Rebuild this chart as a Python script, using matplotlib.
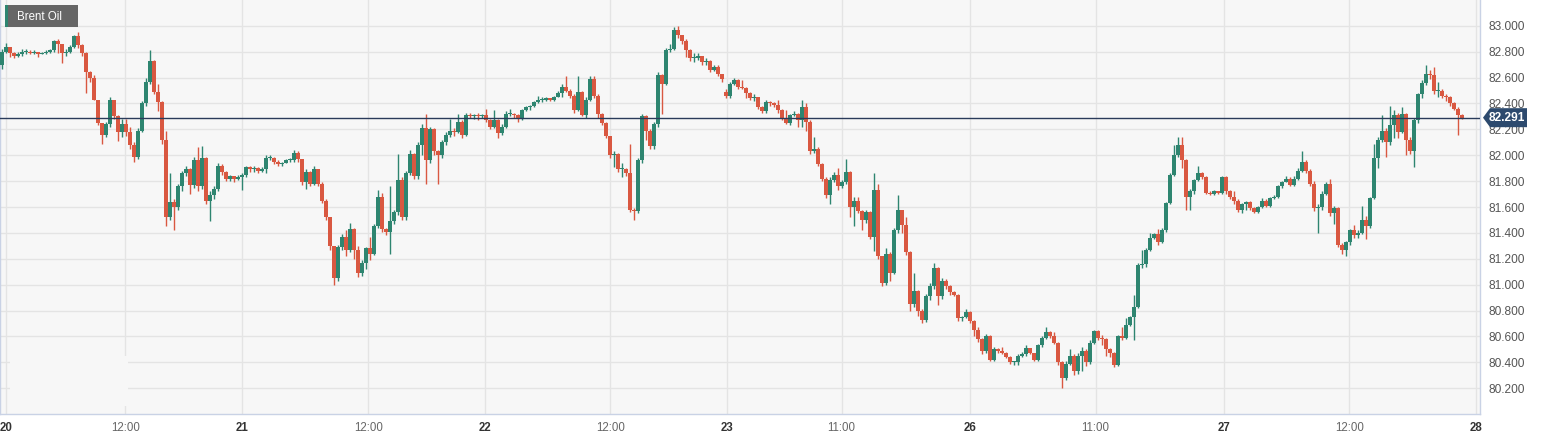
import matplotlib
matplotlib.use("Agg")
import matplotlib.pyplot as plt
from matplotlib.patches import Rectangle, Polygon
import numpy as np

# Brent Oil, 15-min style candles (compressed), Mar 20 - Mar 27
first_open = 82.70

close = [
    82.80, 82.84, 82.79, 82.77, 82.78, 82.80, 82.80, 82.79, 82.80, 82.78,
    82.79, 82.80, 82.81, 82.88, 82.86, 82.79, 82.80, 82.84, 82.92, 82.85,
    82.79, 82.64, 82.60, 82.43, 82.25, 82.16, 82.24, 82.43, 82.30, 82.18,
    82.24, 82.18, 82.08, 81.99, 82.19, 82.40, 82.57, 82.73, 82.49, 82.41,
    82.12, 81.52, 81.64, 81.60, 81.76, 81.86, 81.89, 81.77, 81.96, 81.76,
    81.98, 81.65, 81.69, 81.74, 81.92, 81.87, 81.82, 81.84, 81.82, 81.83,
    81.85, 81.91, 81.89, 81.90, 81.88, 81.89, 81.98, 81.98, 81.95, 81.93,
    81.94, 81.96, 81.96, 82.02, 81.97, 81.79, 81.87, 81.78, 81.89, 81.78,
    81.65, 81.52, 81.30, 81.05, 81.29, 81.37, 81.27, 81.43, 81.27, 81.09,
    81.17, 81.28, 81.24, 81.45, 81.68, 81.43, 81.41, 81.49, 81.56, 81.81,
    81.52, 81.86, 82.01, 81.84, 82.08, 82.21, 81.96, 82.20, 82.03, 82.00,
    82.10, 82.16, 82.19, 82.18, 82.26, 82.16, 82.31, 82.30, 82.31, 82.30,
    82.31, 82.27, 82.22, 82.27, 82.17, 82.22, 82.32, 82.32, 82.31, 82.28,
    82.35, 82.37, 82.38, 82.41, 82.43, 82.43, 82.44, 82.43, 82.45, 82.48,
    82.53, 82.50, 82.46, 82.35, 82.49, 82.31, 82.43, 82.59, 82.46, 82.32,
    82.25, 82.15, 82.00, 82.01, 81.89, 81.89, 81.86, 81.58, 81.57, 81.96,
    82.30, 82.19, 82.07, 82.24, 82.62, 82.55, 82.81, 82.82, 82.97, 82.93,
    82.88, 82.81, 82.75, 82.75, 82.77, 82.72, 82.73, 82.66, 82.68, 82.63,
    82.59, 82.46, 82.55, 82.58, 82.53, 82.52, 82.48, 82.44, 82.45, 82.37,
    82.34, 82.41, 82.40, 82.39, 82.35, 82.28, 82.25, 82.31, 82.32, 82.27,
    82.37, 82.26, 82.03, 82.05, 81.93, 81.82, 81.69, 81.81, 81.85, 81.76,
    81.79, 81.87, 81.60, 81.65, 81.57, 81.50, 81.56, 81.37, 81.73, 81.22,
    81.01, 81.24, 81.09, 81.42, 81.58, 81.46, 81.25, 80.85, 80.95, 80.80,
    80.73, 80.91, 80.99, 81.13, 80.91, 81.03, 80.99, 80.94, 80.92, 80.74,
    80.75, 80.79, 80.72, 80.65, 80.58, 80.49, 80.60, 80.42, 80.50, 80.49,
    80.47, 80.44, 80.40, 80.40, 80.45, 80.46, 80.51, 80.47, 80.42, 80.53,
    80.59, 80.63, 80.60, 80.55, 80.40, 80.28, 80.39, 80.45, 80.33, 80.45,
    80.49, 80.40, 80.55, 80.64, 80.59, 80.58, 80.50, 80.47, 80.38, 80.60,
    80.59, 80.69, 80.75, 80.83, 81.15, 81.16, 81.27, 81.36, 81.39, 81.33,
    81.42, 81.63, 81.85, 82.00, 82.08, 81.96, 81.68, 81.72, 81.81, 81.86,
    81.83, 81.71, 81.70, 81.72, 81.71, 81.83, 81.72, 81.68, 81.65, 81.58,
    81.62, 81.64, 81.59, 81.56, 81.60, 81.65, 81.61, 81.67, 81.68, 81.76,
    81.79, 81.82, 81.77, 81.82, 81.88, 81.95, 81.88, 81.78, 81.59, 81.60,
    81.70, 81.78, 81.55, 81.59, 81.31, 81.27, 81.33, 81.42, 81.38, 81.40,
    81.50, 81.45, 81.67, 81.98, 82.12, 82.19, 82.10, 82.23, 82.31, 82.18,
    82.32, 82.12, 82.03, 82.27, 82.47, 82.56, 82.63, 82.62, 82.50, 82.50,
    82.46, 82.45, 82.40, 82.36, 82.31, 82.291,
]

high = [
    82.82, 82.87, 82.84, 82.80, 82.80, 82.82, 82.82, 82.81, 82.81, 82.80,
    82.80, 82.81, 82.82, 82.89, 82.90, 82.86, 82.82, 82.85, 82.93, 82.95,
    82.86, 82.80, 82.65, 82.62, 82.43, 82.25, 82.26, 82.45, 82.43, 82.31,
    82.28, 82.28, 82.22, 82.10, 82.21, 82.42, 82.60, 82.81, 82.74, 82.55,
    82.42, 82.19, 81.86, 81.66, 81.78, 81.88, 81.92, 81.90, 81.99, 82.06,
    82.07, 81.99, 81.72, 81.76, 81.94, 81.93, 81.88, 81.85, 81.84, 81.85,
    81.86, 81.92, 81.92, 81.92, 81.91, 81.91, 82.00, 82.00, 81.99, 81.96,
    81.95, 81.97, 81.98, 82.04, 82.03, 81.97, 81.89, 81.88, 81.92, 81.89,
    81.79, 81.66, 81.52, 81.30, 81.31, 81.39, 81.42, 81.48, 81.44, 81.30,
    81.19, 81.29, 81.37, 81.47, 81.73, 81.71, 81.44, 81.76, 81.58, 82.01,
    81.83, 81.88, 82.04, 82.02, 82.10, 82.24, 82.32, 82.22, 82.21, 82.04,
    82.12, 82.18, 82.28, 82.21, 82.32, 82.27, 82.33, 82.33, 82.32, 82.33,
    82.32, 82.36, 82.28, 82.35, 82.28, 82.24, 82.34, 82.36, 82.33, 82.32,
    82.36, 82.38, 82.39, 82.42, 82.46, 82.45, 82.45, 82.44, 82.46, 82.50,
    82.55, 82.61, 82.51, 82.47, 82.61, 82.50, 82.45, 82.61, 82.61, 82.47,
    82.33, 82.26, 82.15, 82.03, 82.02, 81.94, 81.90, 82.09, 81.59, 81.98,
    82.32, 82.31, 82.20, 82.26, 82.64, 82.63, 82.83, 82.86, 82.99, 83.00,
    82.93, 82.90, 82.82, 82.79, 82.79, 82.77, 82.75, 82.74, 82.70, 82.70,
    82.63, 82.51, 82.57, 82.60, 82.59, 82.58, 82.53, 82.49, 82.47, 82.45,
    82.38, 82.43, 82.42, 82.41, 82.43, 82.36, 82.35, 82.32, 82.34, 82.33,
    82.43, 82.40, 82.27, 82.14, 82.06, 81.94, 81.83, 81.83, 81.87, 81.90,
    81.81, 81.97, 81.88, 81.68, 81.68, 81.58, 81.58, 81.57, 81.86, 81.78,
    81.22, 81.28, 81.25, 81.44, 81.69, 81.58, 81.52, 81.26, 81.09, 80.96,
    80.81, 80.93, 81.01, 81.17, 81.14, 81.05, 81.04, 81.00, 80.95, 80.93,
    80.76, 80.81, 80.80, 80.73, 80.67, 80.59, 80.62, 80.61, 80.52, 80.51,
    80.52, 80.48, 80.45, 80.41, 80.46, 80.48, 80.53, 80.51, 80.47, 80.54,
    80.60, 80.67, 80.64, 80.63, 80.56, 80.41, 80.41, 80.50, 80.46, 80.47,
    80.52, 80.50, 80.57, 80.65, 80.65, 80.61, 80.59, 80.51, 80.48, 80.61,
    80.67, 80.74, 80.76, 80.92, 81.17, 81.27, 81.28, 81.40, 81.40, 81.43,
    81.44, 81.64, 81.86, 82.08, 82.14, 82.14, 81.97, 81.74, 81.82, 81.92,
    81.87, 81.84, 81.72, 81.73, 81.72, 81.84, 81.84, 81.73, 81.72, 81.66,
    81.63, 81.65, 81.65, 81.60, 81.61, 81.67, 81.66, 81.68, 81.69, 81.77,
    81.80, 81.84, 81.83, 81.84, 81.90, 82.03, 81.96, 81.89, 81.80, 81.62,
    81.72, 81.79, 81.82, 81.61, 81.60, 81.32, 81.34, 81.43, 81.46, 81.42,
    81.61, 81.53, 81.68, 82.09, 82.14, 82.31, 82.21, 82.38, 82.35, 82.33,
    82.37, 82.33, 82.14, 82.29, 82.48, 82.58, 82.70, 82.66, 82.68, 82.57,
    82.51, 82.47, 82.46, 82.41, 82.37, 82.32,
]

low = [
    82.67, 82.79, 82.76, 82.75, 82.76, 82.77, 82.78, 82.78, 82.78, 82.76,
    82.78, 82.78, 82.79, 82.80, 82.79, 82.71, 82.77, 82.79, 82.83, 82.83,
    82.77, 82.48, 82.57, 82.43, 82.23, 82.09, 82.14, 82.22, 82.28, 82.11,
    82.14, 82.15, 82.05, 81.95, 81.97, 82.18, 82.38, 82.55, 82.47, 82.34,
    82.09, 81.45, 81.50, 81.42, 81.58, 81.72, 81.84, 81.70, 81.75, 81.72,
    81.74, 81.62, 81.49, 81.66, 81.72, 81.85, 81.80, 81.80, 81.79, 81.81,
    81.73, 81.83, 81.87, 81.87, 81.86, 81.87, 81.86, 81.96, 81.93, 81.92,
    81.92, 81.94, 81.95, 81.95, 81.95, 81.77, 81.74, 81.76, 81.77, 81.76,
    81.63, 81.50, 81.27, 81.00, 81.03, 81.27, 81.22, 81.25, 81.20, 81.06,
    81.07, 81.12, 81.19, 81.23, 81.44, 81.41, 81.38, 81.24, 81.47, 81.54,
    81.50, 81.50, 81.85, 81.82, 81.82, 82.00, 81.78, 81.94, 82.00, 81.78,
    81.98, 82.08, 82.14, 82.15, 82.17, 82.13, 82.15, 82.29, 82.28, 82.27,
    82.29, 82.26, 82.20, 82.21, 82.13, 82.16, 82.21, 82.30, 82.29, 82.26,
    82.27, 82.34, 82.35, 82.37, 82.40, 82.41, 82.42, 82.42, 82.42, 82.45,
    82.45, 82.49, 82.44, 82.33, 82.34, 82.30, 82.29, 82.42, 82.44, 82.29,
    82.23, 82.13, 81.98, 81.91, 81.87, 81.83, 81.84, 81.56, 81.50, 81.55,
    81.94, 82.12, 82.05, 82.05, 82.22, 82.32, 82.54, 82.80, 82.81, 82.91,
    82.86, 82.76, 82.73, 82.72, 82.74, 82.70, 82.70, 82.64, 82.65, 82.61,
    82.57, 82.44, 82.44, 82.54, 82.51, 82.51, 82.44, 82.43, 82.42, 82.36,
    82.33, 82.33, 82.38, 82.37, 82.33, 82.27, 82.24, 82.23, 82.30, 82.22,
    82.22, 82.19, 82.01, 82.02, 81.92, 81.80, 81.67, 81.62, 81.79, 81.73,
    81.75, 81.78, 81.52, 81.45, 81.55, 81.42, 81.48, 81.35, 81.26, 81.20,
    80.99, 81.00, 81.03, 81.08, 81.40, 81.40, 81.23, 80.80, 80.83, 80.76,
    80.70, 80.71, 80.88, 80.97, 80.84, 80.89, 80.97, 80.92, 80.91, 80.72,
    80.72, 80.74, 80.70, 80.60, 80.56, 80.46, 80.47, 80.41, 80.41, 80.47,
    80.46, 80.43, 80.39, 80.38, 80.38, 80.44, 80.45, 80.46, 80.41, 80.41,
    80.52, 80.58, 80.59, 80.54, 80.38, 80.20, 80.26, 80.38, 80.30, 80.31,
    80.33, 80.37, 80.39, 80.54, 80.57, 80.53, 80.45, 80.44, 80.36, 80.37,
    80.57, 80.58, 80.68, 80.57, 80.82, 81.13, 81.14, 81.26, 81.35, 81.31,
    81.32, 81.41, 81.62, 81.84, 81.99, 81.90, 81.58, 81.58, 81.70, 81.80,
    81.82, 81.70, 81.69, 81.69, 81.70, 81.70, 81.70, 81.66, 81.62, 81.56,
    81.55, 81.58, 81.58, 81.55, 81.55, 81.59, 81.60, 81.60, 81.66, 81.67,
    81.75, 81.79, 81.76, 81.76, 81.81, 81.87, 81.86, 81.76, 81.57, 81.40,
    81.58, 81.69, 81.53, 81.47, 81.29, 81.24, 81.22, 81.31, 81.36, 81.36,
    81.39, 81.35, 81.44, 81.66, 81.90, 82.10, 81.99, 82.08, 82.13, 82.13,
    82.17, 82.00, 82.01, 81.91, 82.25, 82.44, 82.54, 82.59, 82.47, 82.45,
    82.44, 82.42, 82.38, 82.35, 82.16, 82.28,
]

# session-break candles that open away from the prior close
gap_open = {181: 82.49}

tick_pos = [1.5, 31.3, 60.6, 92.1, 121.3, 152.6, 181.8, 210.4, 242.6, 273.9, 306.1, 337.3, 369.0]
tick_labels = ["20", "12:00", "21", "12:00", "22", "12:00", "23", "11:00", "26", "11:00", "27", "12:00", "28"]
day_labels = {"20", "21", "22", "23", "26", "27", "28"}

last_price = 82.291
instrument = "Brent Oil"

UP = "#2e8570"
DOWN = "#d95841"

close = np.array(close)
high = np.array(high)
low = np.array(low)
opens = np.concatenate([[first_open], close[:-1]])
for i, v in gap_open.items():
    opens[i] = v
high = np.maximum(high, np.maximum(opens, close))
low = np.minimum(low, np.minimum(opens, close))

x = np.arange(len(close)) + 0.5
up = close >= opens
colors = np.where(up, UP, DOWN)

W, H = 1545, 440
fig = plt.figure(figsize=(W / 100, H / 100), dpi=100)
fig.patch.set_facecolor("white")
ax = fig.add_axes([0, 1 - 414 / H, 1480 / W, 414 / H])
ax.set_facecolor("#f7f7f7")

ax.set_xlim(0, 370)
ax.set_ylim(80.0, 83.2)

# grid
ax.set_yticks(np.round(np.arange(80.2, 83.01, 0.2), 1))
ax.set_xticks(tick_pos)
ax.grid(True, color="#e4e4e4", linewidth=1.0, zorder=0)
ax.set_axisbelow(True)

# watermark patch bottom-left (hides grid)
ax.add_patch(Rectangle((10 / 1480, 8 / 414), 118 / 1480, 50 / 414, transform=ax.transAxes,
                       facecolor="#f7f7f7", edgecolor="none", zorder=1))

# candles
ax.vlines(x, low, high, colors=colors, linewidth=1.0, zorder=3)
body_h = np.abs(close - opens)
body_h = np.maximum(body_h, 0.008)
ax.bar(x, body_h, bottom=np.minimum(opens, close), width=0.8, color=colors,
       edgecolor="none", linewidth=0, zorder=4)

# last price line
ax.axhline(last_price, color="#2a3b5a", linewidth=1.0, zorder=5)

# axes styling
ax.spines["top"].set_visible(False)
for side in ["left", "right", "bottom"]:
    ax.spines[side].set_color("#c9d2e5")
    ax.spines[side].set_linewidth(1.0)

ax.yaxis.tick_right()
ax.tick_params(axis="y", length=0, pad=6, labelsize=8.6, labelcolor="#555555")
ax.tick_params(axis="x", length=0, pad=6, labelsize=8.3)
ax.set_yticklabels([f"{v:.3f}" for v in ax.get_yticks()], family="Liberation Sans")
ax.set_xticklabels(tick_labels, family="Liberation Sans")
for lab in ax.get_xticklabels():
    if lab.get_text() in day_labels:
        lab.set_fontweight("bold")
        lab.set_color("#333333")
    else:
        lab.set_color("#666666")

# instrument label box
fig.add_artist(Rectangle((5 / W, 1 - 27 / H), 73 / W, 22 / H, transform=fig.transFigure,
                         facecolor="#666666", edgecolor="none"))
fig.add_artist(Rectangle((5 / W, 1 - 27 / H), 2.5 / W, 22 / H, transform=fig.transFigure,
                         facecolor=UP, edgecolor="none"))
fig.text(17 / W, 1 - 16.5 / H, instrument, color="white", fontsize=8.3,
         family="Liberation Sans", va="center", ha="left")

# last price tag
yp = 1 - (26 + (83.0 - last_price) * 129.3) / H
th = 9.5 / H
tag = Polygon([(1483 / W, yp), (1490 / W, yp + th), (1527 / W, yp + th),
               (1527 / W, yp - th), (1490 / W, yp - th)], closed=True,
              transform=fig.transFigure, facecolor="#2d4a6e", edgecolor="none", zorder=10)
fig.add_artist(tag)
fig.text(1507 / W, yp, f"{last_price:.3f}", color="white", fontsize=8.6, fontweight="bold",
         family="Liberation Sans", va="center", ha="center", zorder=11)

fig.savefig("out.png", dpi=100)
